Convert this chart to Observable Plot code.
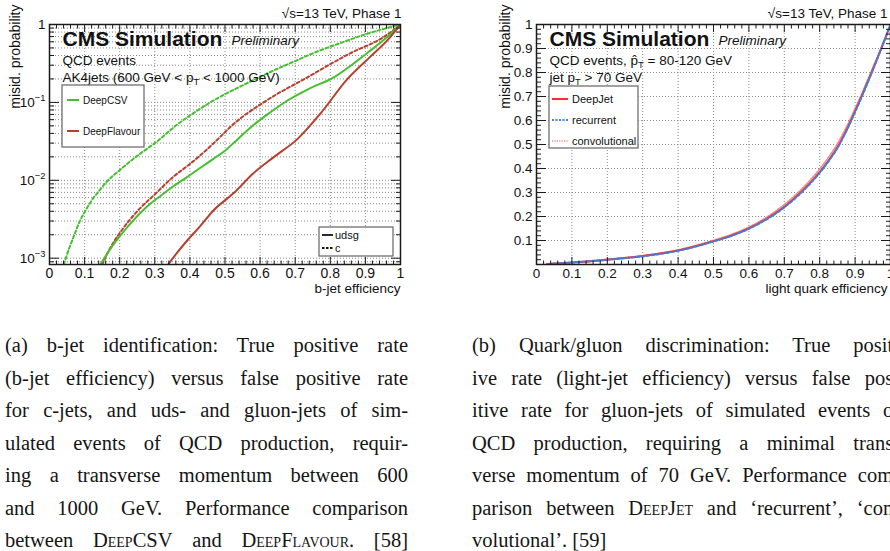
<!DOCTYPE html>
<html>
<head>
<meta charset="utf-8">
<script src="https://cdn.jsdelivr.net/npm/d3@7"></script>
<script src="https://cdn.jsdelivr.net/npm/@observablehq/plot@0.6"></script>
<style>
html, body { margin: 0; padding: 0; background: #fff; width: 890px; height: 551px; overflow: hidden; }
#page { position: relative; width: 890px; height: 551px; overflow: hidden; background: #fff; }
.panel { position: absolute; top: 0; }
.cap { position: absolute; top: 329px; font-family: "Liberation Serif", "Times New Roman", serif; font-size: 20.5px; color: #151515; }
.cap div { height: 32.5px; line-height: 32.5px; text-align: justify; text-align-last: justify; }
.cap div.last { text-align: left; text-align-last: left; }
.sc { font-variant: small-caps; }
</style>
</head>
<body>
<div id="page">
  <div class="panel" id="left" style="left:0px;width:410px"></div>
  <div class="panel" id="right" style="left:490px;width:424px"></div>
  <div class="cap" id="capA" style="left:5px;width:403px"></div>
  <div class="cap" id="capB" style="left:472px;width:428px"></div>
</div>
<script>
// ---------------- data ----------------
const xTicks = [0, 0.1, 0.2, 0.3, 0.4, 0.5, 0.6, 0.7, 0.8, 0.9, 1];
const xTickLabels = ["0", "0.1", "0.2", "0.3", "0.4", "0.5", "0.6", "0.7", "0.8", "0.9", "1"];
const yTicksLog = [0.001, 0.01, 0.1, 1];
const yTickLabelsLog = ["10^{\u22123}", "10^{\u22122}", "10^{\u22121}", "1"];
const yTicksLin = [0.1, 0.2, 0.3, 0.4, 0.5, 0.6, 0.7, 0.8, 0.9, 1];
const yTickLabelsLin = ["0.1", "0.2", "0.3", "0.4", "0.5", "0.6", "0.7", "0.8", "0.9", "1"];

// panel (a): b-jet efficiency vs misid. probability
const deepCSV_udsg_eff = [0.145, 0.17, 0.2, 0.231, 0.278, 0.316, 0.35, 0.392, 0.43, 0.468, 0.5, 0.54, 0.583, 0.63, 0.677, 0.74, 0.81, 0.86, 0.905, 0.962, 1];
const deepCSV_udsg_mis = [0.00083, 0.00125, 0.0019, 0.0028, 0.0046, 0.0063, 0.0082, 0.011, 0.0145, 0.019, 0.024, 0.035, 0.052, 0.075, 0.105, 0.15, 0.21, 0.3, 0.43, 0.69, 1];
const deepCSV_c_eff = [0.041, 0.055, 0.069, 0.085, 0.1, 0.12, 0.14, 0.165, 0.2, 0.24, 0.27, 0.3, 0.364, 0.42, 0.477, 0.55, 0.62, 0.69, 0.763, 0.83, 0.905, 1];
const deepCSV_c_mis = [0.00083, 0.0013, 0.0019, 0.0029, 0.0039, 0.0055, 0.0072, 0.0098, 0.0135, 0.019, 0.024, 0.03, 0.052, 0.078, 0.112, 0.165, 0.235, 0.325, 0.45, 0.58, 0.76, 1];
const deepFlav_udsg_eff = [0.339, 0.365, 0.393, 0.43, 0.467, 0.524, 0.581, 0.638, 0.707, 0.772, 0.849, 0.915, 0.963, 1];
const deepFlav_udsg_mis = [0.00084, 0.0012, 0.0017, 0.0026, 0.0041, 0.0068, 0.0123, 0.0197, 0.034, 0.072, 0.2, 0.39, 0.63, 1];
const deepFlav_c_eff = [0.15, 0.175, 0.2, 0.25, 0.3, 0.354, 0.4, 0.43, 0.468, 0.525, 0.62, 0.735, 0.858, 0.952, 1];
const deepFlav_c_mis = [0.00083, 0.0014, 0.0021, 0.004, 0.0066, 0.0112, 0.0162, 0.021, 0.03, 0.053, 0.107, 0.21, 0.43, 0.69, 1];

// panel (b): light quark efficiency vs misid. probability (gluons)
const lq_eff = [0.03, 0.1, 0.2, 0.3, 0.4, 0.5, 0.55, 0.6, 0.65, 0.7, 0.75, 0.8, 0.825, 0.85, 0.875, 0.9, 0.925, 0.95, 0.975, 1.0];
const deepJet_mis = [0.002, 0.008, 0.02, 0.035, 0.058, 0.097, 0.12, 0.15, 0.19, 0.24, 0.305, 0.385, 0.433, 0.488, 0.558, 0.638, 0.723, 0.812, 0.904, 1.0];
const recurrent_mis = [0.002, 0.008, 0.02, 0.034, 0.057, 0.096, 0.119, 0.149, 0.188, 0.238, 0.302, 0.382, 0.43, 0.485, 0.555, 0.635, 0.72, 0.81, 0.903, 1.0];
const convolutional_mis = [0.002, 0.009, 0.022, 0.037, 0.061, 0.101, 0.125, 0.156, 0.197, 0.25, 0.316, 0.398, 0.447, 0.503, 0.572, 0.65, 0.733, 0.82, 0.908, 1.0];

// texts
const energyText = "\u221As=13 TeV, Phase 1";
const cmsText = "CMS Simulation";
const prelimText = "Preliminary";
const aLines = ["QCD events", "AK4jets (600 GeV < p_{T} < 1000 GeV)"];
const bLines = ["QCD events, p\u0302_{T} = 80-120 GeV", "jet p_{T} > 70 GeV"];
const yTitle = "misid. probability";
const xTitleA = "b-jet efficiency";
const xTitleB = "light quark efficiency";

// ---------------- helpers ----------------
const toRows = (xs, ys) => xs.map((x, i) => ({x, y: ys[i]}));
const xMinor = d3.range(1, 50).map(i => i / 50).filter((v, i) => (i + 1) % 5 !== 0);
const yMinorLog = [0.0009].concat([0.001, 0.01, 0.1].flatMap(d => [2, 3, 4, 5, 6, 7, 8, 9].map(k => +(k * d).toPrecision(3))));
const yMinorLin = d3.range(1, 50).map(i => i / 50).filter((v, i) => (i + 1) % 5 !== 0);
const xLabel = d => xTickLabels[xTicks.findIndex(t => Math.abs(t - d) < 1e-9)];

const gridStyle = {stroke: "#8a8a8a", strokeOpacity: 1, strokeWidth: 1, strokeDasharray: "1,2"};
const noText = {fill: "none", tickFormat: () => "", label: null, stroke: "#1a1a1a"};

function tickMarks(yMajor, yMinor) {
  return [
    Plot.axisX(xTicks, {anchor: "bottom", tickSize: 7, dy: -7, ...noText}),
    Plot.axisX(xMinor, {anchor: "bottom", tickSize: 3.5, dy: -3.5, ...noText}),
    Plot.axisX(xTicks, {anchor: "top", tickSize: 7, dy: 7, ...noText}),
    Plot.axisX(xMinor, {anchor: "top", tickSize: 3.5, dy: 3.5, ...noText}),
    Plot.axisY(yMajor, {anchor: "left", tickSize: 10, dx: 10, ...noText}),
    Plot.axisY(yMinor, {anchor: "left", tickSize: 5, dx: 5, ...noText}),
    Plot.axisY(yMajor, {anchor: "right", tickSize: 10, dx: -10, ...noText}),
    Plot.axisY(yMinor, {anchor: "right", tickSize: 5, dx: -5, ...noText})
  ];
}

function headerMarks(lines, energyDx, xTitle, yTitleDx, xTitleDx) {
  return [
    Plot.text([energyText], {text: d => d, frameAnchor: "top-right", dx: energyDx, dy: -7, textAnchor: "end", lineAnchor: "bottom", fontSize: 13.5}),
    Plot.text([cmsText], {text: d => d, frameAnchor: "top-left", dx: 13, dy: 21, textAnchor: "start", lineAnchor: "bottom", fontSize: 21, fontWeight: "bold"}),
    Plot.text([prelimText], {text: d => d, frameAnchor: "top-left", dx: 182, dy: 20, textAnchor: "start", lineAnchor: "bottom", fontSize: 13.5, fontStyle: "italic"}),
    Plot.text([lines[0]], {text: d => d, frameAnchor: "top-left", dx: 13, dy: 40, textAnchor: "start", lineAnchor: "bottom", fontSize: 13.5}),
    Plot.text([lines[1]], {text: d => d, frameAnchor: "top-left", dx: 13, dy: 57, textAnchor: "start", lineAnchor: "bottom", fontSize: 13.5}),
    Plot.text([xTitle], {text: d => d, frameAnchor: "bottom-right", dx: xTitleDx, dy: 24, textAnchor: "end", lineAnchor: "middle", fontSize: 13.5}),
    Plot.text([yTitle], {text: d => d, frameAnchor: "top-left", dx: yTitleDx, dy: -20, rotate: -90, textAnchor: "end", lineAnchor: "middle", fontSize: 14})
  ];
}

function richText(svg) {
  d3.select(svg).selectAll("text").each(function () {
    const t = this.textContent;
    if (!/[\^_]\{/.test(t)) return;
    const fs = parseFloat(getComputedStyle(this).fontSize) || 13;
    const parts = t.split(/([\^_]\{[^}]*\})/).filter(p => p !== "");
    const el = d3.select(this);
    el.text(null);
    let pending = 0;
    for (const p of parts) {
      const m = p.match(/^([\^_])\{([^}]*)\}$/);
      if (m) {
        const shift = m[1] === "^" ? -0.42 * fs : 0.3 * fs;
        el.append("tspan").attr("dy", pending + shift).attr("font-size", (0.72 * fs) + "px").text(m[2]);
        pending = -shift;
      } else {
        const ts = el.append("tspan").text(p);
        if (pending) ts.attr("dy", pending);
        pending = 0;
      }
    }
  });
}

function legend(svg, box, entries, fontSize) {
  const g = d3.select(svg).append("g").attr("class", "legend").attr("text-anchor", "start");
  g.append("rect").attr("x", box.x).attr("y", box.y).attr("width", box.w).attr("height", box.h)
    .attr("fill", "#fff").attr("stroke", "#707070").attr("stroke-width", 1.3);
  for (const e of entries) {
    g.append("line").attr("x1", e.x1).attr("x2", e.x2).attr("y1", e.y).attr("y2", e.y)
      .attr("stroke", e.stroke).attr("stroke-width", e.width).attr("stroke-dasharray", e.dash || null);
    g.append("text").attr("x", e.tx).attr("y", e.y).attr("dy", "0.35em")
      .attr("text-anchor", "start")
      .attr("font-size", fontSize + "px").attr("font-family", "'Liberation Sans', Arial, sans-serif")
      .attr("fill", "#111").text(e.label);
  }
}

const baseStyle = {fontFamily: "'Liberation Sans', Arial, Helvetica, sans-serif", fontSize: "13px", color: "#111", background: "transparent", maxWidth: "none", overflow: "visible"};
const GREEN = "#45bf30", BROWN = "#b5402f";

// ---------------- panel (a) ----------------
const plotA = Plot.plot({
  width: 410, height: 300,
  marginLeft: 49, marginRight: 10, marginTop: 24, marginBottom: 36,
  x: {domain: [0, 1], label: null},
  y: {type: "log", domain: [0.00083, 1], label: null},
  style: baseStyle,
  marks: [
    Plot.gridX(xTicks.slice(1, -1), gridStyle),
    Plot.gridY(yMinorLog.concat(yTicksLog.slice(0, -1)), gridStyle),
    Plot.line(toRows(deepCSV_c_eff, deepCSV_c_mis), {x: "x", y: "y", stroke: GREEN, strokeWidth: 2, strokeDasharray: "3,2.5", curve: "monotone-x", clip: true}),
    Plot.line(toRows(deepFlav_c_eff, deepFlav_c_mis), {x: "x", y: "y", stroke: BROWN, strokeWidth: 2, strokeDasharray: "3,2.5", curve: "monotone-x", clip: true}),
    Plot.line(toRows(deepCSV_udsg_eff, deepCSV_udsg_mis), {x: "x", y: "y", stroke: GREEN, strokeWidth: 2, curve: "monotone-x", clip: true}),
    Plot.line(toRows(deepFlav_udsg_eff, deepFlav_udsg_mis), {x: "x", y: "y", stroke: BROWN, strokeWidth: 2, curve: "monotone-x", clip: true}),
    ...tickMarks(yTicksLog, yMinorLog),
    Plot.axisX(xTicks, {anchor: "bottom", tickSize: 0, tickPadding: 4, tickFormat: xLabel, label: null, fontSize: 14}),
    Plot.axisY(yTicksLog, {anchor: "left", tickSize: 0, tickPadding: 4, tickFormat: d => yTickLabelsLog[yTicksLog.indexOf(d)], label: null, fontSize: 13.5}),
    Plot.frame({stroke: "#1a1a1a", strokeWidth: 1.5}),
    ...headerMarks(aLines, 1, xTitleA, -34, 0)
  ]
});
richText(plotA);
legend(plotA, {x: 62, y: 85, w: 82, h: 62}, [
  {label: "DeepCSV", stroke: GREEN, width: 2, x1: 67, x2: 79, tx: 83, y: 100},
  {label: "DeepFlavour", stroke: BROWN, width: 2, x1: 67, x2: 79, tx: 83, y: 131}
], 10);
legend(plotA, {x: 319, y: 227, w: 74, h: 29}, [
  {label: "udsg", stroke: "#111", width: 1.8, x1: 322, x2: 333, tx: 335, y: 235},
  {label: "c", stroke: "#111", width: 1.8, dash: "2.5,1.5", x1: 322, x2: 333, tx: 335, y: 248}
], 11);
document.getElementById("left").appendChild(plotA);

// ---------------- panel (b) ----------------
const plotB = Plot.plot({
  width: 424, height: 300,
  marginLeft: 46, marginRight: 24, marginTop: 24, marginBottom: 36,
  x: {domain: [0, 1], label: null},
  y: {domain: [0, 1], label: null},
  style: baseStyle,
  marks: [
    Plot.gridX(xTicks.slice(1, -1), gridStyle),
    Plot.gridY(yTicksLin.slice(0, -1), gridStyle),
    Plot.line(toRows(lq_eff, convolutional_mis), {x: "x", y: "y", stroke: "#f08a8a", strokeWidth: 1.6, strokeDasharray: "1.5,1.5", curve: "monotone-x", clip: true}),
    Plot.line(toRows(lq_eff, deepJet_mis), {x: "x", y: "y", stroke: "#ff2a2a", strokeWidth: 2, curve: "monotone-x", clip: true}),
    Plot.line(toRows(lq_eff, recurrent_mis), {x: "x", y: "y", stroke: "#3584e0", strokeWidth: 2, strokeDasharray: "2.5,2.5", curve: "monotone-x", clip: true}),
    ...tickMarks(yTicksLin, yMinorLin),
    Plot.axisX(xTicks, {anchor: "bottom", tickSize: 0, tickPadding: 4, tickFormat: xLabel, label: null, fontSize: 13.5}),
    Plot.axisY(yTicksLin, {anchor: "left", tickSize: 0, tickPadding: 4, tickFormat: d => yTickLabelsLin[yTicksLin.indexOf(d)], label: null, fontSize: 13.5}),
    Plot.frame({stroke: "#1a1a1a", strokeWidth: 1.5}),
    ...headerMarks(bLines, -3, xTitleB, -31, -3)
  ]
});
richText(plotB);
legend(plotB, {x: 59, y: 86, w: 89, h: 62}, [
  {label: "DeepJet", stroke: "#ff2a2a", width: 2, x1: 62, x2: 78, tx: 82, y: 99},
  {label: "recurrent", stroke: "#3584e0", width: 2, dash: "2,1.5", x1: 62, x2: 78, tx: 82, y: 120},
  {label: "convolutional", stroke: "#f08a8a", width: 1.6, dash: "1.2,1.2", x1: 62, x2: 78, tx: 82, y: 141}
], 11);
document.getElementById("right").appendChild(plotB);

// ---------------- captions ----------------
const capALines = [
  "(a) b-jet identification: True positive rate",
  "(b-jet efficiency) versus false positive rate",
  "for c-jets, and uds- and gluon-jets of sim-",
  "ulated events of QCD production, requir-",
  "ing a transverse momentum between 600",
  "and 1000 GeV. Performance comparison",
  "between <span class='sc'>DeepCSV</span> and <span class='sc'>DeepFlavour</span>. [58]"
];
const capBLines = [
  "(b) Quark/gluon discrimination: True posit-",
  "ive rate (light-jet efficiency) versus false pos-",
  "itive rate for gluon-jets of simulated events of",
  "QCD production, requiring a minimal trans-",
  "verse momentum of 70 GeV. Performance com-",
  "parison between <span class='sc'>DeepJet</span> and \u2018recurrent\u2019, \u2018con-",
  "volutional\u2019. [59]"
];
function fillCaption(id, lines, lastPlain) {
  const el = document.getElementById(id);
  lines.forEach((l, i) => {
    const d = document.createElement("div");
    if (lastPlain && i === lines.length - 1) d.className = "last";
    d.innerHTML = l;
    el.appendChild(d);
  });
}
fillCaption("capA", capALines, false);
fillCaption("capB", capBLines, true);
</script>
</body>
</html>
